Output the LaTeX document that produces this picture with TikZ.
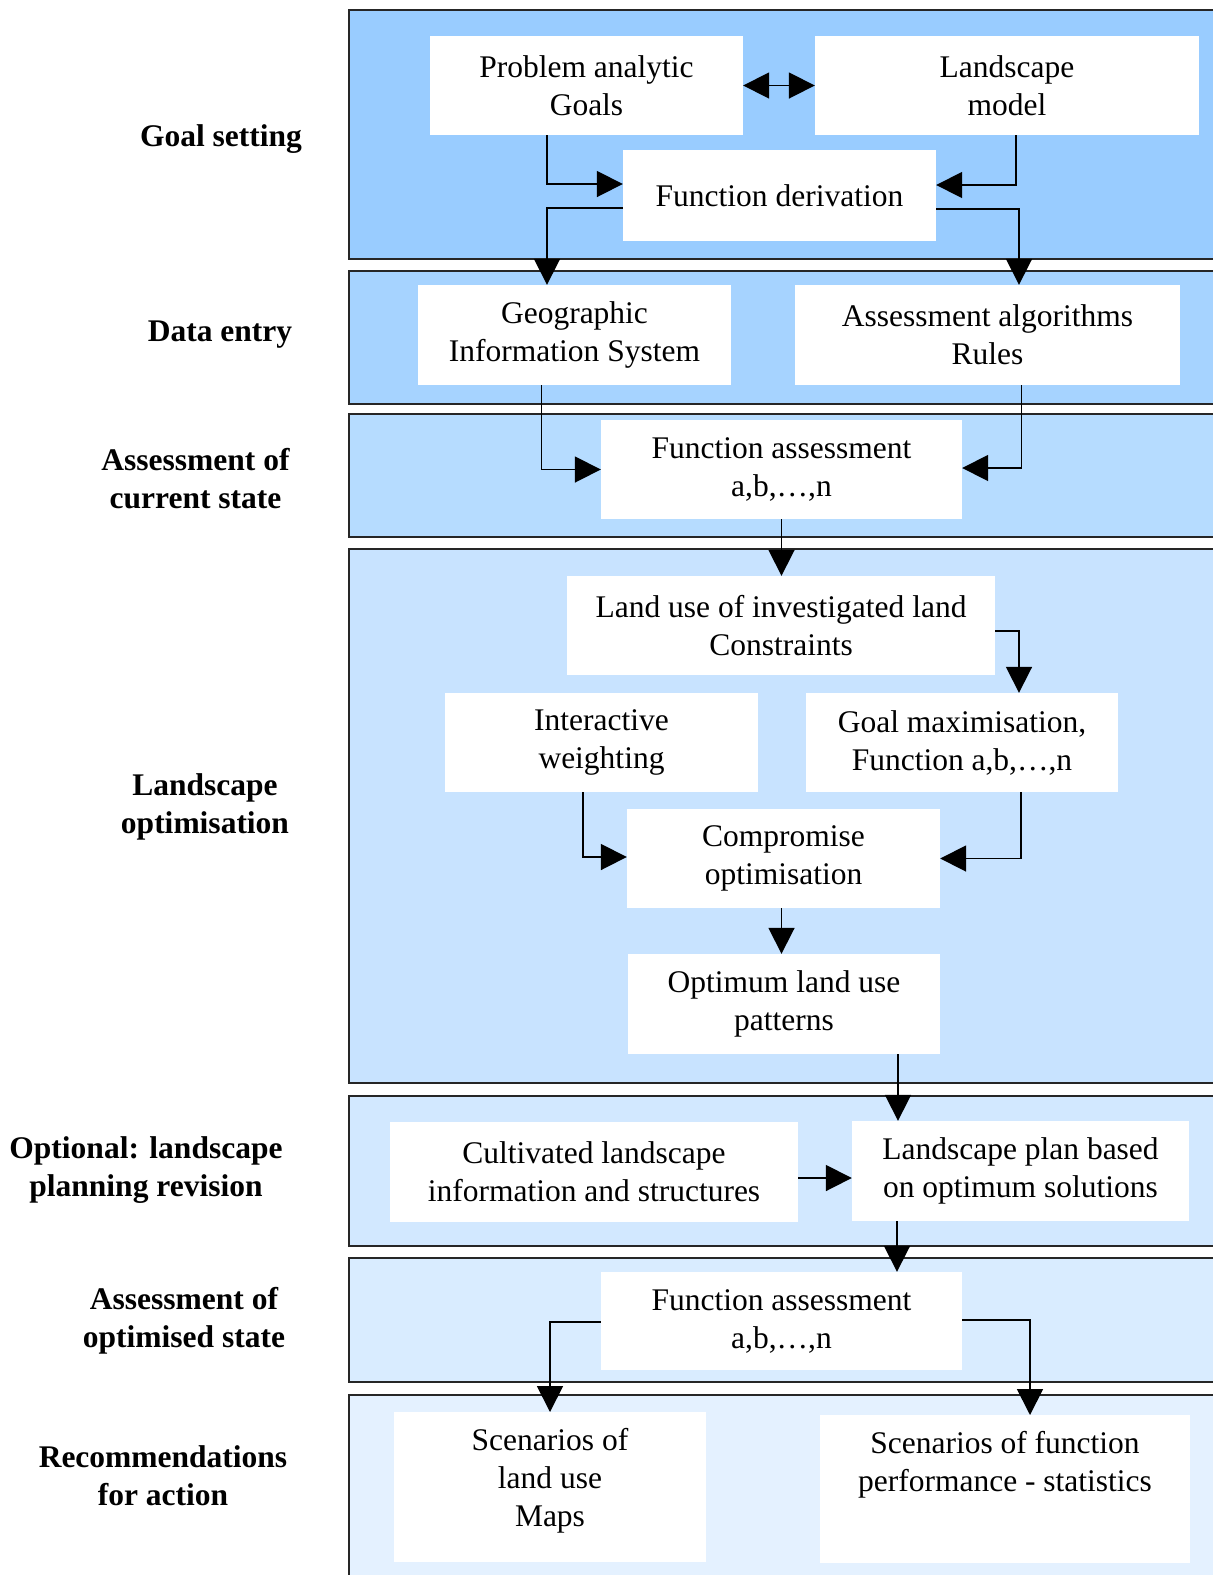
\documentclass[tikz,border=0pt]{standalone}
\usepackage{fontspec}
\setmainfont{Liberation Serif}
\usetikzlibrary{arrows.meta,calc}
% band fills, darkest at the top
\definecolor{bandA}{RGB}{153,204,255}
\definecolor{bandB}{RGB}{166,211,255}
\definecolor{bandC}{RGB}{182,220,255}
\definecolor{bandD}{RGB}{200,227,255}
\definecolor{bandE}{RGB}{210,232,255}
\definecolor{bandF}{RGB}{217,236,255}
\definecolor{bandG}{RGB}{228,241,255}
\begin{document}
\begin{tikzpicture}[x=1pt,y=-1pt,
  every node/.style={font=\fontsize{31.5}{38}\selectfont},
  box/.style={fill=white, inner sep=0pt, align=center},
  lbl/.style={font=\fontsize{31.5}{38}\selectfont\bfseries, align=center, inner sep=0pt},
  band/.style={fill=#1, draw=black!85, line width=2pt},
  link/.style={line width=1.8pt, -{Triangle[length=26pt,width=26pt]}},
  duallink/.style={line width=1.8pt, {Triangle[length=26pt,width=26pt]}-{Triangle[length=26pt,width=26pt]}}]

\useasboundingbox (0,0) rectangle (1213,1575);
\clip (0,0) rectangle (1213,1575);

% stage bands
\draw[band=bandA] (349,10)   rectangle (1240,259);
\draw[band=bandB] (349,271)  rectangle (1240,404);
\draw[band=bandC] (349,414)  rectangle (1240,537);
\draw[band=bandD] (349,549)  rectangle (1240,1083);
\draw[band=bandE] (349,1096) rectangle (1240,1246);
\draw[band=bandF] (349,1258) rectangle (1240,1382);
\draw[band=bandG] (349,1395) rectangle (1240,1620);

% stage labels
\node[lbl] (l1) at (221,139)   {Goal setting};
\node[lbl] (l2) at (220,335)   {Data entry};
\node[lbl] (l3) at (195.5,479) {Assessment of\\current state};
\node[lbl] (l4) at (205,807)   {Landscape\\optimisation};
\node[lbl] (l5) at (146,1170)  {Optional: landscape\\planning revision};
\node[lbl] (l6) at (184,1321)  {Assessment of\\optimised state};
\node[lbl] (l7) at (163,1476)  {Recommendations\\for action};

% process boxes
\node[box, minimum width=313pt, minimum height=99pt]  (pa)  at (586.5,85.5)  {Problem analytic\\Goals};
\node[box, minimum width=384pt, minimum height=99pt]  (lm)  at (1007,85.5)   {Landscape\\model};
\node[box, minimum width=313pt, minimum height=91pt]  (fd)  at (779.5,195.5) {Function derivation};
\node[box, minimum width=313pt, minimum height=100pt] (gis) at (574.5,335)   {Geographic\\Information System};
\node[box, minimum width=385pt, minimum height=100pt] (aar) at (987.5,335)   {Assessment algorithms\\Rules};
\node[box, minimum width=361pt, minimum height=99pt]  (fa1) at (781.5,469.5) {Function assessment\\a,b,\dots,n};
\node[box, minimum width=428pt, minimum height=99pt]  (lu)  at (781,625.5)   {Land use of investigated land\\Constraints};
\node[box, minimum width=313pt, minimum height=99pt]  (iw)  at (601.5,742.5) {Interactive\\weighting};
\node[box, minimum width=312pt, minimum height=99pt]  (gm)  at (962,742.5)   {Goal maximisation,\\Function a,b,\dots,n};
\node[box, minimum width=313pt, minimum height=99pt]  (co)  at (783.5,858.5) {Compromise\\optimisation};
\node[box, minimum width=312pt, minimum height=100pt] (ol)  at (784,1004)    {Optimum land use\\patterns};
\node[box, minimum width=408pt, minimum height=100pt] (cl)  at (594,1172)    {Cultivated landscape\\information and structures};
\node[box, minimum width=337pt, minimum height=100pt] (lp)  at (1020.5,1171) {Landscape plan based\\on optimum solutions};
\node[box, minimum width=361pt, minimum height=98pt]  (fa2) at (781.5,1321)  {Function assessment\\a,b,\dots,n};
\node[box, anchor=north] (s1) at (550,1412)
  {\parbox[c][150pt][t]{312pt}{\centering\rule{0pt}{38pt}Scenarios of\\land use\\Maps}};
\node[box, anchor=north] (s2) at (1005,1415)
  {\parbox[c][148pt][t]{370pt}{\centering\rule{0pt}{38pt}Scenarios of function\\performance - statistics}};

% connectors
\draw[duallink] (pa.east) -- (lm.west);
\draw[link] ([xshift=-39.5pt]pa.south) |- ([yshift=11.5pt]fd.west);
\draw[link] ([xshift=9pt]lm.south) |- ([yshift=10.5pt]fd.east);
\draw[link] ([yshift=-12.5pt]fd.west) -| ([xshift=-27.5pt]gis.north);
\draw[link] ([yshift=-13.5pt]fd.east) -| ([xshift=31.5pt]aar.north);
\draw[link] ([xshift=-33pt]gis.south) |- (fa1.west);
\draw[link] ([xshift=34pt]aar.south) |- ([yshift=1.5pt]fa1.east);
\draw[link] (fa1.south) -- (fa1.south |- lu.north);
\draw[link] ([yshift=-5.5pt]lu.east) -| ([xshift=57pt]gm.north);
\draw[link] ([xshift=-18.5pt]iw.south) |- ([yshift=1.5pt]co.west);
\draw[link] ([xshift=59pt]gm.south) |- (co.east);
\draw[link] ([xshift=-2pt]co.south) -- ([xshift=-2pt]co.south |- ol.north);
\draw[link] ([xshift=114pt]ol.south) -- ([xshift=114pt]ol.south |- lp.north);
\draw[link] ([yshift=-6pt]cl.east) -- ([yshift=-6pt]cl.east -| lp.west);
\draw[link] ([xshift=-123.5pt]lp.south) -- ([xshift=-123.5pt]lp.south |- fa2.north);
\draw[link] ([yshift=-1pt]fa2.west) -| (s1.north);
\draw[link] ([yshift=1pt]fa2.east) -| ([xshift=25pt]s2.north);
\end{tikzpicture}
\end{document}
